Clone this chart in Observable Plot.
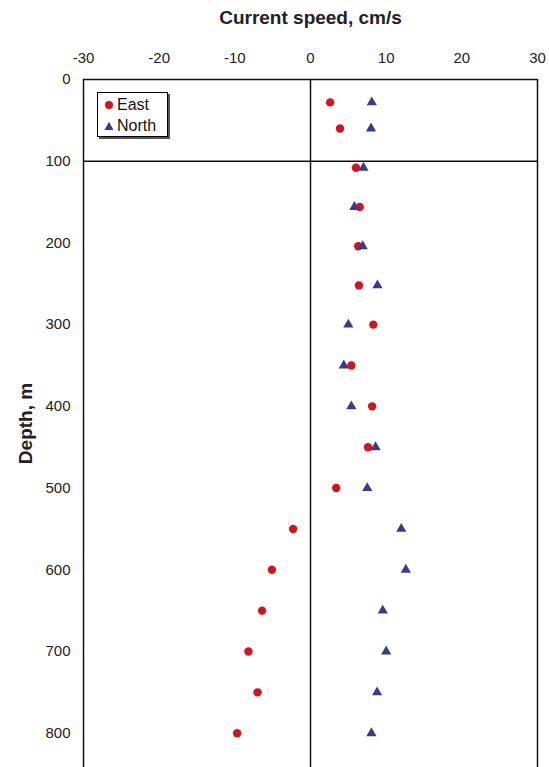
<!DOCTYPE html>
<html>
<head>
<meta charset="utf-8">
<script src="https://cdn.jsdelivr.net/npm/d3@7"></script>
<script src="https://cdn.jsdelivr.net/npm/@observablehq/plot@0.6"></script>
<style>
  html, body { margin: 0; padding: 0; background: #fff; }
  #wrap { position: relative; width: 549px; height: 767px; overflow: hidden; font-family: "Liberation Sans", Arial, sans-serif; }
  #wrap svg g[aria-label="x-axis label"] text,
  #wrap svg g[aria-label="y-axis label"] text { font-weight: bold; font-size: 19px; }
  #legend { position: absolute; left: 97px; top: 92px; width: 71px; height: 45px; border: 1px solid #000; background: #fff;
            box-shadow: 2px 2px 0 #555; font-size: 16px; color: #111; box-sizing: border-box; padding: 1px 0 0 6px; }
  #legend .row { display: flex; align-items: center; height: 21px; }
  #legend svg { margin-right: 3px; }
</style>
</head>
<body>
<div id="wrap">
  <div id="chart"></div>
  <div id="legend"></div>
</div>
<script>
const depths = [28, 60, 108, 156, 204, 252, 300, 350, 400, 450, 500, 550, 600, 650, 700, 750, 800];
const east  = [2.6, 3.9, 6.0, 6.5, 6.3, 6.4, 8.3, 5.4, 8.15, 7.6, 3.4, -2.3, -5.1, -6.4, -8.2, -7.0, -9.7];
const north = [8.1, 8.0, 7.0, 5.8, 6.9, 8.85, 5.0, 4.4, 5.4, 8.6, 7.5, 12.0, 12.6, 9.55, 10.0, 8.8, 8.05];
const xTicks = [-30, -20, -10, 0, 10, 20, 30];
const yTicks = [0, 100, 200, 300, 400, 500, 600, 700, 800];
const seriesNames = ["East", "North"];
const seriesColors = ["#d2141e", "#3a3a8c"];

const data = depths.map((d, i) => ({depth: d, east: east[i], north: north[i]}));

const chart = Plot.plot({
  width: 549,
  height: 767,
  marginLeft: 83,
  marginRight: 12,
  marginTop: 79,
  marginBottom: 0,
  style: {fontFamily: "'Liberation Sans', Arial, sans-serif", fontSize: "15px", color: "#222", background: "#fff"},
  x: {domain: [-30, 30]},
  y: {domain: [0, 842], reverse: true},
  marks: [
    Plot.axisX({anchor: "top", ticks: xTicks, tickSize: 0, tickPadding: 17, tickFormat: d => String(d), label: "Current speed, cm/s", labelAnchor: "center", labelArrow: "none", labelOffset: 69}),
    Plot.axisY({anchor: "left", ticks: yTicks, tickSize: 0, tickPadding: 13, tickFormat: d => String(d), label: "Depth, m", labelAnchor: "center", labelArrow: "none", labelOffset: 65}),
    Plot.ruleX([-30, 0, 30], {stroke: "#111", strokeWidth: 1.5}),
    Plot.ruleY([0, 100], {stroke: "#111", strokeWidth: 1.5}),
    Plot.dot(data, {x: "east", y: "depth", r: 4.2, fill: seriesColors[0], stroke: "none"}),
    Plot.dot(data, {x: "north", y: "depth", r: 3.8, symbol: "triangle", fill: seriesColors[1], stroke: "none"})
  ]
});
document.getElementById("chart").appendChild(chart);

const legend = document.getElementById("legend");
seriesNames.forEach((name, i) => {
  const row = document.createElement("div");
  row.className = "row";
  const shape = i === 0
    ? `<circle cx="5" cy="5" r="4" fill="${seriesColors[i]}"/>`
    : `<path d="M5,0.8 L9.5,9 L0.5,9 Z" fill="${seriesColors[i]}"/>`;
  row.innerHTML = `<svg width="10" height="10">${shape}</svg><span>${name}</span>`;
  legend.appendChild(row);
});
</script>
</body>
</html>
